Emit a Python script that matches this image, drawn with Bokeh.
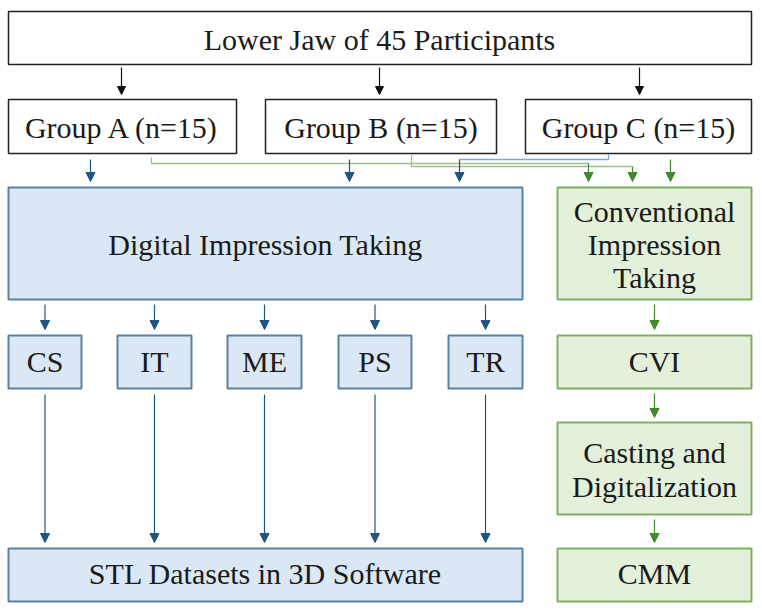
from bokeh.plotting import figure
from bokeh.models import Range1d, Arrow, NormalHead
from bokeh.core.properties import value
from bokeh.embed import file_html
from bokeh.resources import INLINE

# ---- content ----
top_label = "Lower Jaw of 45 Participants"
group_labels = ["Group A (n=15)", "Group B (n=15)", "Group C (n=15)"]
digital_label = "Digital Impression Taking"
conv_lines = ["Conventional", "Impression", "Taking"]
scanner_labels = ["CS", "IT", "ME", "PS", "TR"]
cvi_label = "CVI"
casting_lines = ["Casting and", "Digitalization"]
stl_label = "STL Datasets in 3D Software"
cmm_label = "CMM"

# ---- layout (page pixel coordinates) ----
FONT = value("Liberation Serif")
FS = "30px"
BLUE_FILL, BLUE_LINE, BLUE_ARR = "#dae8f5", "#5a819f", "#1f5583"
GREEN_FILL, GREEN_LINE, GREEN_ARR = "#e3f0da", "#7fb062", "#3f8a2c"
BLUE_CONN, GREEN_CONN = "#86a6c8", "#9fbf8c"
TXT = "#1a1a1a"

p = figure(width=754, height=606, x_range=Range1d(1, 755), y_range=Range1d(607, 1),
           output_backend="svg", toolbar_location=None, min_border=0)
p.axis.visible = False
p.grid.visible = False
p.outline_line_color = None
p.background_fill_color = "white"


def box(l, r, t, b, fill, line, lw=2):
    p.quad(left=[l], right=[r], top=[t], bottom=[b], fill_color=fill,
           line_color=line, line_width=lw)


def label(x, y, txt):
    p.text(x=[x], y=[y], text=[txt], text_font=FONT, text_font_size=FS,
           text_align="center", text_baseline="middle", text_color=TXT)


def arrow(x, y0, y1, color, size=9):
    p.add_layout(Arrow(end=NormalHead(size=size, fill_color=color, line_color=color),
                       x_start=x, y_start=y0, x_end=x, y_end=y1,
                       line_color=color, line_width=1.2))


# top box
box(9, 752, 12, 65, "white", "#222222", 1.5)
label(380, 40, top_label)

# group boxes
group_x = [(9, 237), (266, 497), (526, 752)]
for (l, r), g in zip(group_x, group_labels):
    box(l, r, 100, 154, "white", "#222222", 1.5)
    label((l + r) / 2, 128, g)
for x in [122, 380, 640]:
    arrow(x, 68, 95, "#111111", 8)

# connectors
p.line([609, 609, 460], [155, 160, 160], line_color=BLUE_CONN, line_width=1.3)
p.line([152, 152, 589], [158, 164, 164], line_color=GREEN_CONN, line_width=1.3)
p.line([412, 412, 633], [155, 167, 167], line_color=GREEN_CONN, line_width=1.3)
for x, y0 in [(91, 160), (350, 160), (460, 160)]:
    arrow(x, y0, 182, BLUE_ARR)
for x, y0 in [(589, 164), (633, 167), (671, 160)]:
    arrow(x, y0, 182, GREEN_ARR)

# digital / conventional
box(9, 523, 188, 300, BLUE_FILL, BLUE_LINE)
label(266, 245, digital_label)
box(558, 752, 188, 300, GREEN_FILL, GREEN_LINE)
for y, t in zip([212, 245, 278], conv_lines):
    label(655, y, t)

# scanners
scan_x = [(9, 82), (118, 192), (228, 302), (339, 412), (449, 523)]
for (l, r), s in zip(scan_x, scanner_labels):
    c = (l + r) / 2
    box(l, r, 336, 389, BLUE_FILL, BLUE_LINE)
    label(c, 362, s)
    arrow(c, 305, 330, BLUE_ARR)
    arrow(c, 395, 543, BLUE_ARR)

# conventional chain
box(558, 752, 336, 389, GREEN_FILL, GREEN_LINE)
label(655, 362, cvi_label)
arrow(655, 305, 330, GREEN_ARR)
box(558, 752, 423, 515, GREEN_FILL, GREEN_LINE)
for y, t in zip([453, 487], casting_lines):
    label(655, y, t)
arrow(655, 394, 418, GREEN_ARR)
box(558, 752, 549, 602, GREEN_FILL, GREEN_LINE)
label(655, 574, cmm_label)
arrow(655, 520, 543, GREEN_ARR)

# STL
box(9, 523, 549, 602, BLUE_FILL, BLUE_LINE)
label(266, 574, stl_label)

open("out.html", "w").write(file_html(p, INLINE))
